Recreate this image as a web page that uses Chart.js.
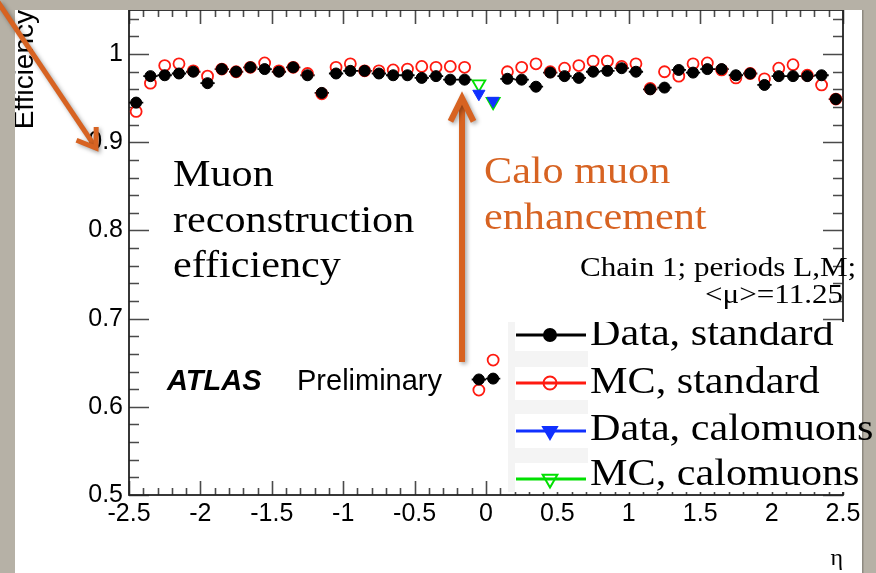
<!DOCTYPE html>
<html>
<head>
<meta charset="utf-8">
<script src="https://cdn.jsdelivr.net/npm/chart.js@4.4.1/dist/chart.umd.min.js"></script>
<style>
  html, body { margin: 0; padding: 0; background: #b6b1a6; overflow: hidden; }
  #wrap { position: relative; width: 876px; height: 573px; }
</style>
</head>
<body>
<div id="wrap"><canvas id="c" width="876" height="573"></canvas></div>
<script>
// eta bin centres (bin width 0.1)
const etaBins = [
  -2.45, -2.35, -2.25, -2.15, -2.05, -1.95, -1.85, -1.75, -1.65, -1.55,
  -1.45, -1.35, -1.25, -1.15, -1.05, -0.95, -0.85, -0.75, -0.65, -0.55,
  -0.45, -0.35, -0.25, -0.15, -0.05,  0.05,  0.15,  0.25,  0.35,  0.45,
   0.55,  0.65,  0.75,  0.85,  0.95,  1.05,  1.15,  1.25,  1.35,  1.45,
   1.55,  1.65,  1.75,  1.85,  1.95,  2.05,  2.15,  2.25,  2.35,  2.45
];

// standard muon reconstruction efficiency, data
const dataStandard = [
  0.945, 0.975, 0.976, 0.978, 0.980, 0.967, 0.983, 0.980, 0.985, 0.983,
  0.980, 0.985, 0.976, 0.956, 0.978, 0.981, 0.981, 0.978, 0.976, 0.976,
  0.973, 0.975, 0.971, 0.971, 0.631, 0.632, 0.972, 0.971, 0.963, 0.979,
  0.975, 0.973, 0.980, 0.981, 0.984, 0.980, 0.960, 0.962, 0.982, 0.979,
  0.983, 0.983, 0.976, 0.978, 0.965, 0.975, 0.975, 0.975, 0.976, 0.949
];

// standard muon reconstruction efficiency, simulation
const mcStandard = [
  0.935, 0.967, 0.987, 0.989, 0.981, 0.975, 0.983, 0.980, 0.985, 0.990,
  0.981, 0.985, 0.978, 0.955, 0.985, 0.989, 0.981, 0.981, 0.982, 0.983,
  0.986, 0.985, 0.986, 0.985, 0.619, 0.653, 0.980, 0.985, 0.989, 0.980,
  0.984, 0.987, 0.992, 0.992, 0.986, 0.989, 0.961, 0.980, 0.975, 0.989,
  0.990, 0.982, 0.973, 0.978, 0.972, 0.984, 0.988, 0.976, 0.965, 0.949
];

// calorimeter-tagged muons in the central crack
const caloEta  = [-0.05, 0.05];
const dataCalo = [0.955, 0.947];
const mcCalo   = [0.966, 0.946];

const xTickValues = [-2.5, -2, -1.5, -1, -0.5, 0, 0.5, 1, 1.5, 2, 2.5];
const xTickLabels = ['-2.5', '-2', '-1.5', '-1', '-0.5', '0', '0.5', '1', '1.5', '2', '2.5'];
const yTickValues = [0.5, 0.6, 0.7, 0.8, 0.9, 1];
const yTickLabels = ['0.5', '0.6', '0.7', '0.8', '0.9', '1'];

const seriesLabels = ['Data, standard', 'MC, standard', 'Data, calomuons', 'MC, calomuons'];

const pairs = (xs, ys) => xs.map((x, i) => ({ x: x, y: ys[i] }));

const ORANGE = '#d76322';
const SLIDE_GREY = '#b6b1a6';
const SERIF = '"Liberation Serif", "DejaVu Serif", serif';
const SANS = '"Liberation Sans", Arial, sans-serif';
const STRETCH = 1.11; // widen the serif face a little

function stretchText(ctx, text, x, y, sx) {
  ctx.save();
  ctx.translate(x, y);
  ctx.scale(sx, 1);
  ctx.fillText(text, 0, 0);
  ctx.restore();
}

function drawArrow(ctx, x0, y0, x1, y1, width, head, spread) {
  const a = Math.atan2(y1 - y0, x1 - x0);
  ctx.lineWidth = width;
  ctx.beginPath();
  ctx.moveTo(x0, y0);
  ctx.lineTo(x1 - Math.cos(a) * width * 0.5, y1 - Math.sin(a) * width * 0.5);
  ctx.stroke();
  ctx.beginPath();
  ctx.moveTo(x1 - head * Math.cos(a - spread), y1 - head * Math.sin(a - spread));
  ctx.lineTo(x1, y1);
  ctx.lineTo(x1 - head * Math.cos(a + spread), y1 - head * Math.sin(a + spread));
  ctx.stroke();
}

function drawMarker(ctx, ds, x, y, r) {
  ctx.save();
  ctx.lineWidth = ds.borderWidth;
  ctx.strokeStyle = ds.borderColor;
  ctx.fillStyle = ds.backgroundColor;
  ctx.beginPath();
  if (ds.pointStyle === 'triangle') {
    const h = r * Math.sin(Math.PI / 3);
    ctx.moveTo(x, y + r);
    ctx.lineTo(x - h, y - r / 2);
    ctx.lineTo(x + h, y - r / 2);
    ctx.closePath();
  } else {
    ctx.arc(x, y, r, 0, Math.PI * 2);
  }
  ctx.fill();
  ctx.stroke();
  ctx.restore();
}

// page background and white slide panel
const panelPlugin = {
  id: 'panel',
  beforeDraw(chart) {
    const ctx = chart.ctx;
    ctx.save();
    ctx.fillStyle = SLIDE_GREY;
    ctx.fillRect(0, 0, chart.width, chart.height);
    ctx.fillStyle = '#ffffff';
    ctx.fillRect(15, 10, 847, 563);
    ctx.restore();
  }
};

// ROOT style frame with inward ticks on all four sides, plus x error bars
const framePlugin = {
  id: 'frame',
  beforeDatasetsDraw(chart) {
    const ctx = chart.ctx;
    const xs = chart.scales.x, ys = chart.scales.y;
    const a = chart.chartArea;
    ctx.save();
    ctx.strokeStyle = '#4a4a4a';
    ctx.lineWidth = 1.6;
    ctx.beginPath();
    // y ticks: majors 0.1, minors 0.02
    for (let k = 0; k <= 27; k++) {
      const v = 0.5 + k * 0.02;
      const py = Math.round(ys.getPixelForValue(v)) + 0.5;
      const len = (k % 5 === 0) ? 20 : 10;
      ctx.moveTo(a.left, py); ctx.lineTo(a.left + len, py);
      ctx.moveTo(a.right, py); ctx.lineTo(a.right - len, py);
    }
    // x ticks: majors 0.5, minors 0.1
    for (let k = 0; k <= 50; k++) {
      const v = -2.5 + k * 0.1;
      const px = Math.round(xs.getPixelForValue(v)) + 0.5;
      const len = (k % 5 === 0) ? 14 : 7;
      ctx.moveTo(px, a.bottom); ctx.lineTo(px, a.bottom - len);
      ctx.moveTo(px, a.top); ctx.lineTo(px, a.top + len);
    }
    ctx.stroke();
    ctx.strokeStyle = '#222222';
    ctx.lineWidth = 1.8;
    ctx.strokeRect(a.left, a.top, a.right - a.left, a.bottom - a.top);

    // horizontal bin-width bars on the data points
    ctx.strokeStyle = '#000000';
    ctx.lineWidth = 1.8;
    ctx.beginPath();
    etaBins.forEach((e, i) => {
      const py = ys.getPixelForValue(dataStandard[i]);
      ctx.moveTo(xs.getPixelForValue(e - 0.05), py);
      ctx.lineTo(xs.getPixelForValue(e + 0.05), py);
    });
    ctx.stroke();
    ctx.restore();
  }
};

// legend, labels and arrows on top of the plot
const overlayPlugin = {
  id: 'overlay',
  afterDraw(chart) {
    const ctx = chart.ctx;
    ctx.save();

    // slide margins hide anything that runs past the panel
    ctx.fillStyle = SLIDE_GREY;
    ctx.fillRect(0, 0, 876, 10);
    ctx.fillRect(0, 0, 15, 573);
    ctx.fillRect(862, 0, 14, 573);
    ctx.fillStyle = 'rgba(0,0,0,0.22)';
    ctx.fillRect(862, 10, 1.5, 563);

    // ATLAS Preliminary
    ctx.fillStyle = '#000';
    ctx.textBaseline = 'alphabetic';
    ctx.textAlign = 'left';
    ctx.font = 'italic bold 29px ' + SANS;
    ctx.fillText('ATLAS', 167, 390);
    ctx.font = '29px ' + SANS;
    ctx.fillText('Preliminary', 297, 390);

    // run info
    ctx.font = '28px ' + SERIF;
    stretchText(ctx, 'Chain 1; periods L,M;', 580, 276, STRETCH);
    stretchText(ctx, '<\u03bc>=11.25', 705, 303, STRETCH);

    // panel label
    ctx.font = '38px ' + SERIF;
    stretchText(ctx, 'Muon', 173, 186, STRETCH);
    stretchText(ctx, 'reconstruction', 173, 232, STRETCH);
    stretchText(ctx, 'efficiency', 173, 277, STRETCH);

    ctx.fillStyle = ORANGE;
    stretchText(ctx, 'Calo muon', 484, 183, STRETCH);
    stretchText(ctx, 'enhancement', 484, 229, STRETCH);

    // legend
    const top = 322, bottom = 492;
    ctx.save();
    ctx.beginPath();
    ctx.rect(505, top, 371, bottom - top);
    ctx.clip();
    ctx.fillStyle = '#ffffff';
    ctx.fillRect(588, top, 274, bottom - top);
    ctx.fillStyle = '#f4f4f4';
    ctx.fillRect(508, top, 80, bottom - top);
    const rowY = [335, 383, 431, 479];
    const boxes = [[top, 29], [367, 33], [414, 34], [463, 29]];
    ctx.fillStyle = '#ffffff';
    boxes.forEach(b => ctx.fillRect(515, b[0], 73, b[1]));
    const legendR = [6, 6.5, 8, 8.5];
    chart.data.datasets.forEach((ds, i) => {
      const y = rowY[i];
      ctx.strokeStyle = ds.borderColor === 'rgba(0,0,0,0)' ? ds.backgroundColor : ds.borderColor;
      ctx.lineWidth = 3;
      ctx.beginPath();
      ctx.moveTo(516, y); ctx.lineTo(586, y);
      ctx.stroke();
      drawMarker(ctx, Object.assign({}, ds, { borderWidth: Math.max(ds.borderWidth, 2) }), 550, y, legendR[i]);
    });
    ctx.restore();
    ctx.fillStyle = '#000';
    ctx.font = '38px ' + SERIF;
    const baseY = [345, 393, 440, 485];
    ctx.save();
    ctx.beginPath();
    ctx.rect(588, top, 288, bottom - top + 5);
    ctx.clip();
    chart.data.datasets.forEach((ds, i) => stretchText(ctx, ds.label, 590, baseY[i], STRETCH));
    ctx.restore();

    // arrows
    ctx.strokeStyle = ORANGE;
    ctx.lineCap = 'butt';
    ctx.lineJoin = 'miter';
    ctx.shadowColor = 'rgba(0,0,0,0.35)';
    ctx.shadowBlur = 4;
    ctx.shadowOffsetX = 2;
    ctx.shadowOffsetY = 2;
    drawArrow(ctx, -2, 2, 96, 148, 5, 21, 0.6);
    drawArrow(ctx, 462, 362, 462, 98, 6, 26, 0.46);
    ctx.restore();
  }
};

const chart = new Chart(document.getElementById('c'), {
  type: 'scatter',
  data: {
    datasets: [
      {
        label: seriesLabels[0],
        data: pairs(etaBins, dataStandard),
        pointStyle: 'circle',
        pointRadius: 5.5,
        backgroundColor: '#000000',
        borderColor: '#000000',
        borderWidth: 1
      },
      {
        label: seriesLabels[1],
        data: pairs(etaBins, mcStandard),
        pointStyle: 'circle',
        pointRadius: 5.5,
        backgroundColor: 'rgba(0,0,0,0)',
        borderColor: '#ff1a10',
        borderWidth: 1.8
      },
      {
        label: seriesLabels[2],
        data: pairs(caloEta, dataCalo),
        pointStyle: 'triangle',
        pointRotation: 180,
        pointRadius: 7,
        backgroundColor: '#1030ff',
        borderColor: '#1030ff',
        borderWidth: 1
      },
      {
        label: seriesLabels[3],
        data: pairs(caloEta, mcCalo),
        pointStyle: 'triangle',
        pointRotation: 180,
        pointRadius: 7.5,
        backgroundColor: 'rgba(0,0,0,0)',
        borderColor: '#00e000',
        borderWidth: 1.8
      }
    ]
  },
  options: {
    responsive: false,
    animation: false,
    devicePixelRatio: 1,
    layout: { padding: { left: 0, right: 33, top: 10, bottom: 0 } },
    plugins: { legend: { display: false }, tooltip: { enabled: false } },
    scales: {
      x: {
        type: 'linear',
        min: -2.5,
        max: 2.5,
        afterBuildTicks(s) { s.ticks = xTickValues.map(v => ({ value: v })); },
        afterFit(s) { s.height = 78; s.paddingLeft = 0; s.paddingRight = 0; },
        grid: { display: false, drawTicks: false },
        border: { display: false },
        ticks: {
          autoSkip: false,
          maxRotation: 0,
          padding: 4,
          color: '#000',
          font: { family: SANS, size: 25 },
          callback(v) { const i = xTickValues.indexOf(v); return i >= 0 ? xTickLabels[i] : ''; }
        },
        title: {
          display: true,
          text: '\u03b7',
          align: 'end',
          color: '#000',
          font: { family: SERIF, size: 24 },
          padding: { top: 0, bottom: 0 }
        }
      },
      y: {
        type: 'linear',
        min: 0.5,
        max: 1.05,
        afterBuildTicks(s) { s.ticks = yTickValues.map(v => ({ value: v })); },
        afterFit(s) { s.width = 129; s.paddingTop = 0; s.paddingBottom = 0; },
        grid: { display: false, drawTicks: false },
        border: { display: false },
        ticks: {
          padding: 6,
          color: '#000',
          font: { family: SANS, size: 25 },
          callback(v) { const i = yTickValues.indexOf(v); return i >= 0 ? yTickLabels[i] : ''; }
        },
        title: {
          display: true,
          text: 'Efficiency',
          align: 'end',
          color: '#000',
          font: { family: SANS, size: 28 },
          padding: { top: 8, bottom: 0 }
        }
      }
    }
  },
  plugins: [panelPlugin, framePlugin, overlayPlugin]
});
</script>
</body>
</html>
